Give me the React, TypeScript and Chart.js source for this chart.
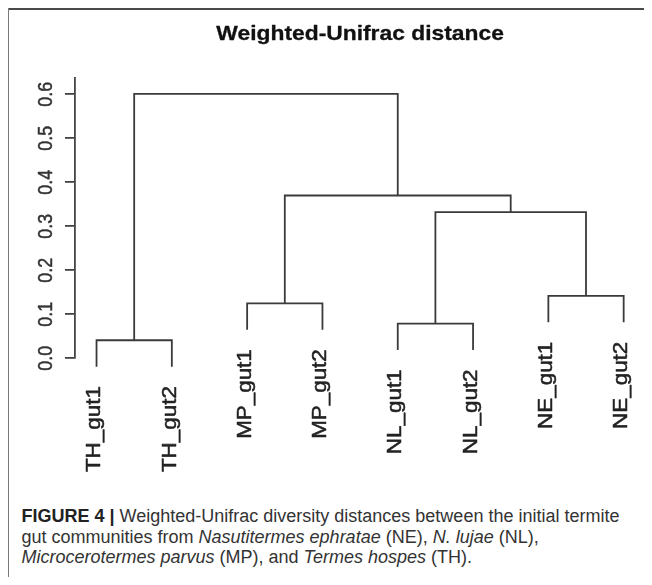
import React, { useEffect, useRef } from "react";
import { Chart, registerables } from "chart.js";

Chart.register(...registerables);

const TITLE = "Weighted-Unifrac distance";
// leaves in dendrogram order
const leafLabels = ["TH_gut1", "TH_gut2", "MP_gut1", "MP_gut2", "NL_gut1", "NL_gut2", "NE_gut1", "NE_gut2"];
// hclust-style merges: negative = leaf (1-based), positive = earlier merge (1-based)
const mergeLeft = [-1, -5, -3, -7, 2, 3, 1];
const mergeRight = [-2, -6, -4, -8, 4, 5, 6];
const mergeHeights = [0.041, 0.079, 0.125, 0.142, 0.332, 0.37, 0.601];
const yTicks = [0, 0.1, 0.2, 0.3, 0.4, 0.5, 0.6];
const HANG = 0.06;

function buildTree() {
  const mergeX: number[] = [];
  const leafEnd: number[] = new Array(leafLabels.length).fill(0);
  const nodeX = (id: number) => (id < 0 ? -id : mergeX[id - 1]);
  const nodeY = (id: number, parentH: number) => {
    if (id < 0) {
      leafEnd[-id - 1] = parentH - HANG;
      return parentH - HANG;
    }
    return mergeHeights[id - 1];
  };
  const segments: { x: number; y: number }[][] = [];
  for (let i = 0; i < mergeHeights.length; i++) {
    const h = mergeHeights[i];
    const l = mergeLeft[i];
    const r = mergeRight[i];
    const xl = nodeX(l);
    const xr = nodeX(r);
    const yl = nodeY(l, h);
    const yr = nodeY(r, h);
    mergeX.push((xl + xr) / 2);
    segments.push([
      { x: xl, y: yl },
      { x: xl, y: h },
      { x: xr, y: h },
      { x: xr, y: yr },
    ]);
  }
  return { segments, leafEnd };
}

const FONT = '"Liberation Sans", Arial, Helvetica, sans-serif';

function drawText(ctx: any, text: string, color: string, stroke: number) {
  ctx.fillStyle = color;
  ctx.fillText(text, 0, 0);
  if (stroke > 0) {
    ctx.strokeStyle = color;
    ctx.lineWidth = stroke;
    ctx.lineJoin = "round";
    ctx.strokeText(text, 0, 0);
  }
}

export default function App() {
  const ref = useRef<HTMLCanvasElement | null>(null);

  useEffect(() => {
    if (!ref.current) return;
    const { segments, leafEnd } = buildTree();

    const textPlugin = {
      id: "dendroText",
      afterDraw(chart: any) {
        const { ctx, chartArea } = chart;
        const xs = chart.scales.x;
        const ys = chart.scales.y;
        // title
        ctx.save();
        ctx.font = `bold 21px ${FONT}`;
        ctx.textAlign = "center";
        ctx.textBaseline = "alphabetic";
        ctx.translate((chartArea.left + chartArea.right) / 2, 32);
        ctx.scale(1.087, 1);
        drawText(ctx, TITLE, "#111", 0.3);
        ctx.restore();
        // y tick labels (rotated)
        ys.ticks.forEach((t: any) => {
          const py = ys.getPixelForValue(t.value);
          ctx.save();
          ctx.font = `21px ${FONT}`;
          ctx.textAlign = "center";
          ctx.textBaseline = "alphabetic";
          ctx.translate(chartArea.left - 23.5, py);
          ctx.rotate(-Math.PI / 2);
          ctx.scale(0.85, 1);
          drawText(ctx, t.label, "#333", 0.5);
          ctx.restore();
        });
        // leaf labels
        leafLabels.forEach((lab, i) => {
          const px = xs.getPixelForValue(i + 1);
          const py = ys.getPixelForValue(leafEnd[i]) + 19.5;
          ctx.save();
          ctx.font = `20px ${FONT}`;
          ctx.textAlign = "right";
          ctx.textBaseline = "alphabetic";
          ctx.translate(px + 3.7, py);
          ctx.rotate(-Math.PI / 2);
          ctx.scale(1.12, 1);
          drawText(ctx, lab, "#222", 0.5);
          ctx.restore();
        });
      },
    };

    const chart = new Chart(ref.current, {
      type: "scatter",
      data: {
        datasets: segments.map((seg) => ({
          data: seg,
          showLine: true,
          borderColor: "#3a3a3a",
          borderWidth: 1.8,
          pointRadius: 0,
          pointHoverRadius: 0,
          tension: 0,
          clip: false as any,
          fill: false,
        })),
      },
      options: {
        responsive: false,
        maintainAspectRatio: false,
        animation: false,
        events: [],
        layout: { padding: { left: 55, right: 6.8, top: 70, bottom: 129.7 } },
        plugins: {
          legend: { display: false },
          tooltip: { enabled: false },
          title: { display: false },
        },
        scales: {
          x: {
            type: "linear",
            min: 0.714,
            max: 8.286,
            display: false,
          },
          y: {
            type: "linear",
            min: 0,
            max: 0.637,
            afterFit: (scale: any) => {
              scale.width = 12;
            },
            afterBuildTicks: (scale: any) => {
              scale.ticks = yTicks.map((v) => ({ value: v }));
            },
            ticks: {
              display: false,
              callback: (v: any) => Number(v).toFixed(1),
            },
            grid: {
              display: true,
              drawOnChartArea: false,
              drawTicks: true,
              tickLength: 10,
              color: "#444",
              lineWidth: 1.8,
            },
            border: { display: true, color: "#444", width: 1.8 },
          },
        },
      },
      plugins: [textPlugin],
    });
    return () => chart.destroy();
  }, []);

  return (
    <div
      style={{
        position: "relative",
        width: 644,
        height: 577,
        marginBottom: -8,
        overflow: "hidden",
        background: "#fff",
      }}
    >
      <div
        style={{
          position: "absolute",
          left: 0,
          top: 0,
          width: 644,
          height: 2,
          background: "#4a4a4a",
        }}
      />
      <div
        style={{
          position: "absolute",
          left: -1,
          top: 0,
          width: 2,
          height: 577,
          background: "#7a7a7a",
        }}
      />
      <canvas
        ref={ref}
        width={644}
        height={480}
        style={{ position: "absolute", left: 0, top: 0, width: 644, height: 480 }}
      />
      <div
        style={{
          position: "absolute",
          left: 13.5,
          top: 498,
          width: 630,
          fontFamily: FONT,
          fontSize: 18,
          lineHeight: "20.5px",
          color: "#333",
          whiteSpace: "nowrap",
        }}
      >
        <b style={{ color: "#222" }}>FIGURE 4 |</b> Weighted-Unifrac diversity distances between the initial termite
        <br />
        gut communities from <i>Nasutitermes ephratae</i> (NE), <i>N. lujae</i> (NL),
        <br />
        <i>Microcerotermes parvus</i> (MP), and <i>Termes hospes</i> (TH).
      </div>
    </div>
  );
}
